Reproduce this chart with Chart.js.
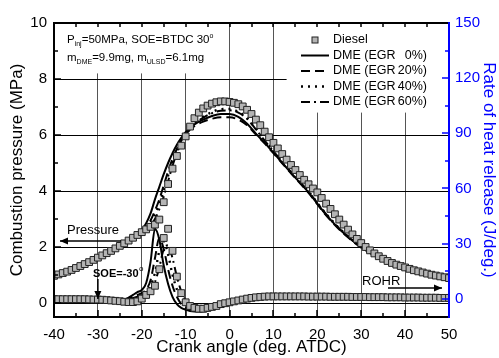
<!DOCTYPE html>
<html><head><meta charset="utf-8">
<script src="https://cdn.jsdelivr.net/npm/chart.js@4/dist/chart.umd.min.js"></script>
<style>html,body{margin:0;padding:0;background:#fff}canvas{display:block}</style>
</head><body>
<canvas id="c" width="499" height="358"></canvas>
<script>
// ---------- DATA ----------
const xTicks = [-40,-30,-20,-10,0,10,20,30,40,50];
const pTicks = [0,2,4,6,8,10];
const rTicks = [0,30,60,90,120,150];

const dieselAngles = [-40,-39,-38,-37,-36,-35,-34,-33,-32,-31,-30,-29,-28,-27,-26,-25,-24,-23,-22,-21,-20,-19,-18,-17,-16,-15,-14,-13,-12,-11,-10,-9,-8,-7,-6,-5,-4,-3,-2,-1,0,1,2,3,4,5,6,7,8,9,10,11,12,13,14,15,16,17,18,19,20,21,22,23,24,25,26,27,28,29,30,31,32,33,34,35,36,37,38,39,40,41,42,43,44,45,46,47,48,49,50];
const dieselPressure = [0.97,1.02,1.07,1.12,1.18,1.25,1.32,1.39,1.46,1.54,
 1.62,1.7,1.78,1.86,1.95,2.04,2.13,2.23,2.33,2.43,
 2.53,2.63,2.72,2.8,2.98,3.6,4.25,4.8,5.25,5.62,
 5.95,6.3,6.6,6.8,6.95,7.05,7.12,7.17,7.2,7.2,
 7.18,7.15,7.1,7.02,6.9,6.75,6.55,6.35,6.12,5.92,
 5.72,5.52,5.32,5.12,4.93,4.75,4.57,4.4,4.24,4.09,
 3.95,3.75,3.55,3.36,3.17,2.98,2.8,2.62,2.45,2.29,
 2.14,2.0,1.88,1.77,1.67,1.58,1.5,1.43,1.37,1.32,
 1.27,1.22,1.17,1.13,1.09,1.05,1.01,0.98,0.95,0.92,0.89];
const dieselROHR = [-0.3,-0.3,-0.3,-0.3,-0.3,-0.3,-0.3,-0.3,-0.4,-0.5,
 -0.5,-0.6,-0.8,-1,-1.2,-1.4,-1.7,-1.9,-1.9,-1.5,
 0,2,4,7,16,33,38,26,12,3,
 -2,-4,-5,-5.5,-5.5,-5,-4.5,-4,-3,-2.5,
 -2,-1.5,-1,-0.5,0,0.4,0.7,0.9,1.1,1.2,
 1.2,1.2,1.2,1.2,1.2,1.2,1.2,1.2,1.1,1.1,
 1.1,1.1,1.1,1.0,1.0,1.0,1.0,1.0,0.9,0.9,
 0.9,0.9,0.8,0.8,0.8,0.8,0.7,0.7,0.7,0.7,
 0.6,0.6,0.6,0.6,0.5,0.5,0.5,0.5,0.4,0.4,0.4];

const dmeAngles = [-40,-36,-32,-28,-26,-24,-23,-22,-21,-20,-19,-18,-17,-16,-15,-14,-13,-12,-11,-10,-9,-8,-6,-4,-2,0,2,4,6,8,10,14,18,22,26,30,35,40,45,50];
const pressEGR0  = [0.97,1.18,1.46,1.78,1.95,2.13,2.23,2.33,2.45,2.6, 2.85,3.2,3.7,4.15,4.6,5.0,5.35,5.65,5.9,6.1, 6.25,6.38,6.55,6.68,6.75,6.75, 6.65,6.4,6.05,5.72,5.37,4.65,3.95,3.15,2.5,2.0,1.55,1.22,1.0,0.84];
const pressEGR20 = [0.97,1.18,1.46,1.78,1.95,2.13,2.23,2.33,2.43,2.55, 2.7,2.95,3.3,3.7,4.2,4.7,5.15,5.5,5.8,6.0, 6.2,6.32,6.48,6.58,6.63,6.63, 6.55,6.35,6.02,5.7,5.35,4.63,3.93,3.13,2.48,1.98,1.54,1.21,0.99,0.83];
const pressEGR40 = [0.97,1.18,1.46,1.78,1.95,2.13,2.23,2.33,2.43,2.55, 2.65,2.85,3.15,3.55,4.0,4.55,5.05,5.45,5.8,6.05, 6.25,6.42,6.65,6.82,6.92,6.93, 6.83,6.6,6.22,5.82,5.45,4.7,3.98,3.18,2.52,2.02,1.56,1.23,1.0,0.84];
const pressEGR60 = [0.97,1.18,1.46,1.78,1.95,2.13,2.23,2.33,2.43,2.55, 2.63,2.75,3.0,3.35,3.8,4.35,4.9,5.35,5.72,6.0, 6.22,6.4,6.62,6.78,6.87,6.88, 6.8,6.58,6.2,5.8,5.42,4.68,3.97,3.17,2.5,2.0,1.55,1.22,1.0,0.84];
const rohrEGR0  = [-0.8,-0.8,-0.8,-1,-1.2,-0.6,0.5,2,3.5,4.7, 8.5,20,38,32,18,8,1,-3,-5,-6, -6.8,-7,-7,-6,-4.5,-3, -1.5,-0.6,0,0.3,0.5,0.5,0.5,0.4,0.3,0.2,0.1,0,0,-0.1];
const rohrEGR20 = [-0.8,-0.8,-0.8,-1,-1.2,-1,0,1,2,3, 5,10,22,33,27,16,7,1,-3,-5, -6,-6.5,-6.5,-5.5,-4,-2.5, -1.2,-0.4,0,0.3,0.5,0.5,0.5,0.4,0.3,0.2,0.1,0,0,-0.1];
const rohrEGR40 = [-0.8,-0.8,-0.8,-1,-1.2,-1,-0.3,0.5,1.5,2.5, 4,7,14,26,31,24,13,5,0,-3.5, -5,-6,-6.5,-5.5,-4,-2.5, -1.2,-0.4,0,0.3,0.5,0.5,0.5,0.4,0.3,0.2,0.1,0,0,-0.1];
const rohrEGR60 = [-0.8,-0.8,-0.8,-1,-1.2,-1,-0.6,0.3,1,2, 3,5,9,17,27,29,22,12,4,-1, -4,-5.5,-6.5,-5.5,-4,-2.5, -1.2,-0.4,0,0.3,0.5,0.5,0.5,0.4,0.3,0.2,0.1,0,0,-0.1];

const legendLabels = ['Diesel','DME (EGR','DME (EGR','DME (EGR','DME (EGR'];
const legendPct = ['', '0%)', '20%)', '40%)', '60%)'];

// ---------- BUILD ----------
const pts = (xs, ys) => xs.map((x, i) => ({x, y: ys[i]}));
const FONT = 'Liberation Sans, Arial, sans-serif';
Chart.defaults.font.family = FONT;

const styles = [
  {dash: [], w: 2},
  {dash: [9,5], w: 2},
  {dash: [2,5], w: 2.4},
  {dash: [9,4,2,4], w: 2}
];
function lineDs(label, xs, ys, axis, st) {
  return {label, data: pts(xs, ys), yAxisID: axis, showLine: true, borderColor: '#000', borderWidth: st.w,
    borderDash: st.dash, pointRadius: 0, fill: false, cubicInterpolationMode: 'monotone', order: 2};
}
function dieselDs(ys, axis) {
  return {label: 'Diesel', data: pts(dieselAngles, ys), yAxisID: axis, showLine: false,
    pointStyle: 'rect', pointRadius: 4.8, pointBackgroundColor: '#b4b4b4', pointBorderColor: '#222',
    pointBorderWidth: 1, order: 1};
}
const datasets = [
  dieselDs(dieselPressure, 'y'),
  dieselDs(dieselROHR, 'y1'),
  lineDs('DME (EGR 0%)', dmeAngles, pressEGR0, 'y', styles[0]),
  lineDs('DME (EGR 20%)', dmeAngles, pressEGR20, 'y', styles[1]),
  lineDs('DME (EGR 40%)', dmeAngles, pressEGR40, 'y', styles[2]),
  lineDs('DME (EGR 60%)', dmeAngles, pressEGR60, 'y', styles[3]),
  lineDs('DME (EGR 0%) ROHR', dmeAngles, rohrEGR0, 'y1', styles[0]),
  lineDs('DME (EGR 20%) ROHR', dmeAngles, rohrEGR20, 'y1', styles[1]),
  lineDs('DME (EGR 40%) ROHR', dmeAngles, rohrEGR40, 'y1', styles[2]),
  lineDs('DME (EGR 60%) ROHR', dmeAngles, rohrEGR60, 'y1', styles[3])
];

function setTicks(vals) { return s => { s.ticks = vals.map(v => ({value: v})); }; }

function arrow(ctx, x1, y1, x2, y2) {
  ctx.beginPath(); ctx.moveTo(x1, y1); ctx.lineTo(x2, y2); ctx.stroke();
  const a = Math.atan2(y2 - y1, x2 - x1), L = 8, W = 3.5;
  ctx.beginPath();
  ctx.moveTo(x2, y2);
  ctx.lineTo(x2 - L*Math.cos(a) + W*Math.sin(a), y2 - L*Math.sin(a) - W*Math.cos(a));
  ctx.lineTo(x2 - L*Math.cos(a) - W*Math.sin(a), y2 - L*Math.sin(a) + W*Math.cos(a));
  ctx.closePath(); ctx.fill();
}
function rich(ctx, parts, x, y, size) {
  let cx = x;
  for (const p of parts) {
    if (p.sub) { ctx.font = Math.round(size*0.62) + 'px ' + FONT; ctx.fillText(p.t, cx, y + size*0.3); }
    else if (p.sup) { ctx.font = Math.round(size*0.62) + 'px ' + FONT; ctx.fillText(p.t, cx, y - size*0.45); }
    else { ctx.font = size + 'px ' + FONT; ctx.fillText(p.t, cx, y); }
    cx += ctx.measureText(p.t).width;
  }
}

const decor = {
  id: 'decor',
  beforeDraw(chart) {
    const c = chart.ctx; c.save(); c.fillStyle = '#fff'; c.fillRect(0, 0, chart.width, chart.height); c.restore();
  },
  beforeDatasetsDraw(chart) {
    const {ctx, chartArea: a, scales: {x, y}} = chart;
    ctx.save(); ctx.fillStyle = '#fff';
    ctx.fillRect(a.left + 1, a.top + 1, x.getPixelForValue(-4) - a.left - 1, y.getPixelForValue(8.2) - a.top - 1);
    ctx.fillRect(x.getPixelForValue(13), a.top + 1, a.right - x.getPixelForValue(13) - 1, y.getPixelForValue(6.8) - a.top - 1);
    ctx.restore();
  },
  afterDraw(chart) {
    const {ctx, chartArea: a, scales: {x, y, y1}} = chart;
    ctx.save();
    ctx.lineCap = 'butt';
    ctx.strokeStyle = '#000'; ctx.lineWidth = 1.5;
    for (let v = -40; v <= 50; v += 5) {
      const px = Math.round(x.getPixelForValue(v));
      const len = v % 10 === 0 ? 7 : 4;
      ctx.beginPath(); ctx.moveTo(px, a.bottom); ctx.lineTo(px, a.bottom - len); ctx.stroke();
      ctx.beginPath(); ctx.moveTo(px, a.top); ctx.lineTo(px, a.top + 4); ctx.stroke();
    }
    for (let v = 0; v <= 10; v += 1) {
      const py = Math.round(y.getPixelForValue(v));
      const len = v % 2 === 0 ? 7 : 4;
      ctx.beginPath(); ctx.moveTo(a.left, py); ctx.lineTo(a.left + len, py); ctx.stroke();
    }
    ctx.strokeStyle = '#0000ff';
    for (let v = 0; v <= 150; v += 15) {
      const py = Math.round(y1.getPixelForValue(v));
      const len = v % 30 === 0 ? 7 : 4;
      ctx.beginPath(); ctx.moveTo(a.right, py); ctx.lineTo(a.right - len, py); ctx.stroke();
    }
    ctx.lineWidth = 2; ctx.strokeStyle = '#000';
    ctx.beginPath();
    ctx.moveTo(a.right, a.top); ctx.lineTo(a.left, a.top); ctx.lineTo(a.left, a.bottom); ctx.lineTo(a.right, a.bottom);
    ctx.stroke();
    ctx.strokeStyle = '#0000ff';
    ctx.beginPath(); ctx.moveTo(a.right, a.top - 1); ctx.lineTo(a.right, a.bottom + 1); ctx.stroke();

    ctx.fillStyle = '#000'; ctx.textBaseline = 'alphabetic'; ctx.textAlign = 'left';
    rich(ctx, [{t:'P'},{t:'inj',sub:true},{t:'=50MPa, SOE=BTDC 30'},{t:'o',sup:true}], 67, 43, 11.5);
    rich(ctx, [{t:'m'},{t:'DME',sub:true},{t:'=9.9mg, m'},{t:'ULSD',sub:true},{t:'=6.1mg'}], 67, 61, 11.5);

    const lx1 = 301, lx2 = 329, tx = 333;
    const rows = [40, 55.5, 71, 86.5, 102];
    ctx.font = '12.5px ' + FONT; ctx.textBaseline = 'middle';
    rows.forEach((ry, i) => {
      if (i === 0) {
        const m = (lx1 + lx2) / 2;
        ctx.fillStyle = '#b4b4b4'; ctx.fillRect(m - 3, ry - 3, 6, 6);
        ctx.strokeStyle = '#222'; ctx.lineWidth = 1; ctx.setLineDash([]); ctx.strokeRect(m - 3, ry - 3, 6, 6);
      } else {
        const st = styles[i - 1];
        ctx.strokeStyle = '#000'; ctx.lineWidth = st.w; ctx.setLineDash(st.dash);
        ctx.beginPath(); ctx.moveTo(lx1, ry); ctx.lineTo(lx2, ry); ctx.stroke();
      }
      ctx.setLineDash([]);
      ctx.fillStyle = '#000'; ctx.textAlign = 'left';
      ctx.fillText(legendLabels[i], tx, ry);
      if (legendPct[i]) { ctx.textAlign = 'right'; ctx.fillText(legendPct[i], 427, ry); }
    });

    ctx.textAlign = 'left'; ctx.textBaseline = 'alphabetic'; ctx.fillStyle = '#000'; ctx.strokeStyle = '#000';
    ctx.lineWidth = 1.5;
    ctx.font = '13px ' + FONT; ctx.fillText('Pressure', 67, 234);
    arrow(ctx, 121, 241, 60, 241);
    ctx.font = 'bold 11px ' + FONT; ctx.fillText('SOE=-30', 93, 277);
    const w = ctx.measureText('SOE=-30').width;
    ctx.font = '8px ' + FONT; ctx.fillText('o', 93 + w + 0.5, 271);
    const sx = x.getPixelForValue(-30);
    arrow(ctx, sx, 279, sx, 299);
    ctx.font = '13px ' + FONT; ctx.fillText('ROHR', 362, 285);
    arrow(ctx, 388, 288, 442, 288);
    ctx.restore();
  }
};

new Chart(document.getElementById('c'), {
  type: 'scatter',
  data: {datasets},
  options: {
    responsive: false, animation: false, devicePixelRatio: 1,
    layout: {padding: {top: 23, left: 0, right: 0, bottom: 0}},
    plugins: {legend: {display: false}, tooltip: {enabled: false}},
    scales: {
      x: {
        type: 'linear', min: -40, max: 50,
        afterBuildTicks: setTicks(xTicks),
        afterFit: s => { s.height = 41; },
        grid: {color: '#555', lineWidth: 1, drawTicks: false},
        border: {display: false},
        ticks: {color: '#000', font: {size: 15}, padding: 9, maxRotation: 0},
        title: {display: true, text: 'Crank angle (deg. ATDC)', color: '#000', font: {size: 17}, padding: {top: 0, bottom: 0}}
      },
      y: {
        position: 'left', min: -0.5, max: 10,
        afterBuildTicks: setTicks(pTicks),
        afterFit: s => { s.width = 54; },
        grid: {color: '#000', lineWidth: 1, drawTicks: false},
        border: {display: false},
        ticks: {color: '#000', font: {size: 15}, padding: 7},
        title: {display: true, text: 'Combustion pressure (MPa)', color: '#000', font: {size: 17}, padding: {top: 7, bottom: 0}}
      },
      y1: {
        position: 'right', min: -10, max: 150,
        afterBuildTicks: setTicks(rTicks),
        afterFit: s => { s.width = 50; },
        grid: {display: false, drawTicks: false},
        border: {display: false},
        ticks: {color: '#0000ff', font: {size: 15}, padding: 6},
        title: {display: true, text: 'Rate of heat release (J/deg.)', color: '#0000ff', font: {size: 17}, padding: {top: 0, bottom: 0}}
      }
    }
  },
  plugins: [decor]
});
</script></body></html>
